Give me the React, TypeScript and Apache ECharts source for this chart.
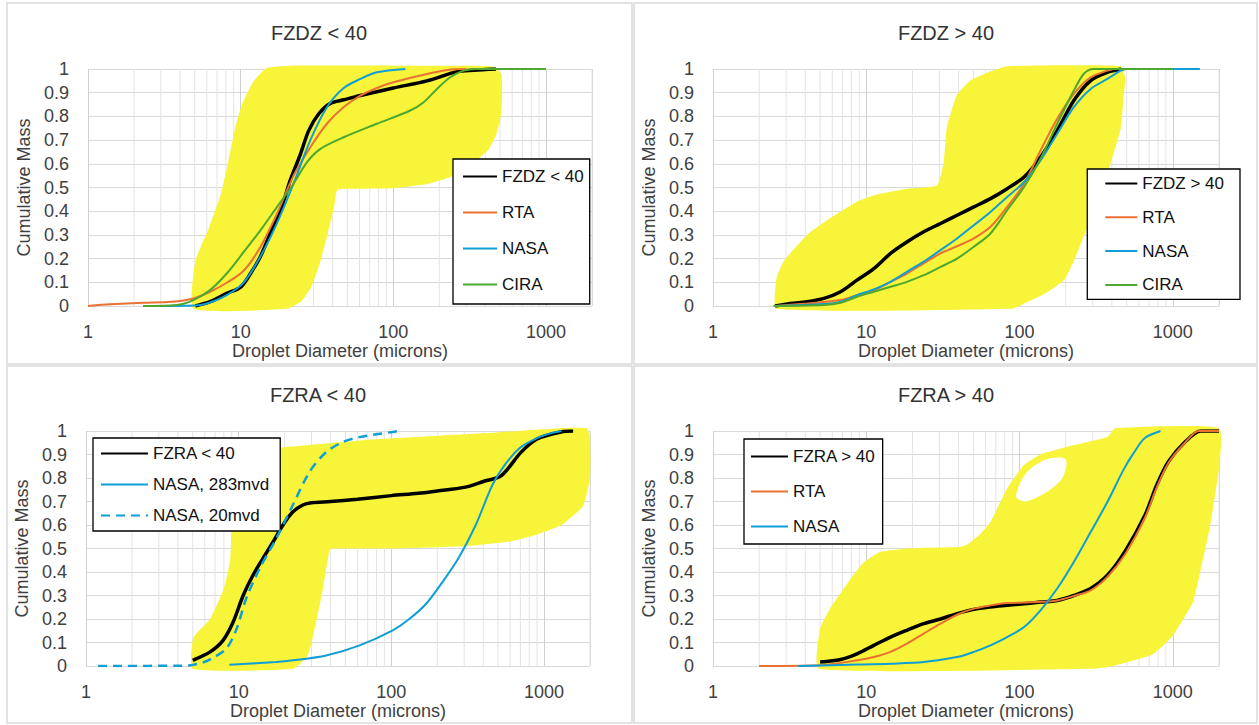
import React, { useEffect, useRef } from "react";
import * as echarts from "echarts";

// ---------- data ----------
const PANEL_TITLES = ["FZDZ < 40", "FZDZ > 40", "FZRA < 40", "FZRA > 40"];
const X_AXIS_NAME = "Droplet Diameter (microns)";
const Y_AXIS_NAME = "Cumulative Mass";
const MINOR_GRID_X = [2, 3, 4, 5, 6, 7, 8, 9, 20, 30, 40, 50, 60, 70, 80, 90, 200, 300, 400, 500, 600, 700, 800, 900, 2000];

// Panel 1: FZDZ < 40
const FZDZ_LT40 = [[5.05, 0], [6.3, 0.018], [8.1, 0.053], [10, 0.08], [11.6, 0.137], [13.5, 0.21], [15.6, 0.306], [18.2, 0.4], [21.1, 0.53], [24.6, 0.64], [27.9, 0.74], [32.4, 0.81], [38.7, 0.855], [47.3, 0.87], [60.8, 0.888], [100, 0.92], [166, 0.95], [261, 0.989], [336, 0.995], [470, 1]];
const RTA_1 = [[1, 0], [1.4, 0.007], [2.3, 0.014], [3.5, 0.018], [4.9, 0.032], [6.3, 0.06], [8.1, 0.098], [10.5, 0.15], [13.5, 0.25], [17.3, 0.39], [22.2, 0.55], [28.6, 0.67], [36.8, 0.77], [47.3, 0.84], [60.8, 0.888], [78, 0.92], [100, 0.944], [166, 0.979], [248, 0.999], [300, 1]];
const NASA_1 = [[2.3, 0], [5.05, 0.002], [6.3, 0.015], [8.1, 0.046], [10.5, 0.1], [13.5, 0.21], [17.3, 0.35], [22.2, 0.516], [28.6, 0.7], [36.8, 0.84], [47.3, 0.92], [60.8, 0.958], [78, 0.986], [120, 1]];
const CIRA_1 = [[2.3, 0], [3.8, 0.004], [4.9, 0.025], [6.3, 0.067], [8.1, 0.137], [10.5, 0.229], [13.5, 0.32], [17.3, 0.418], [22.2, 0.516], [27.2, 0.607], [33.3, 0.663], [47.3, 0.712], [78, 0.769], [129, 0.825], [158, 0.86], [193, 0.916], [236, 0.965], [289, 0.993], [350, 1], [1000, 1]];
const CLOUD_1 = [[4.9, -0.012], [5.05, 0.19], [6.2, 0.33], [7.4, 0.47], [8.3, 0.61], [9.2, 0.75], [10.2, 0.85], [12.2, 0.95], [14.9, 1.005], [22, 1.014], [100, 1.014], [300, 1.014], [450, 1.01], [510, 0.98], [515, 0.9], [505, 0.8], [470, 0.72], [420, 0.66], [330, 0.6], [250, 0.55], [166, 0.515], [100, 0.497], [60, 0.495], [43, 0.49], [41, 0.42], [37, 0.3], [33, 0.18], [29, 0.08], [25, 0.02], [20, -0.012]];

// Panel 2: FZDZ > 40
const FZDZ_GT40 = [[2.54, 0], [3.19, 0.011], [4.1, 0.018], [5.3, 0.032], [6.8, 0.06], [8.7, 0.109], [11.2, 0.158], [14.4, 0.222], [18.4, 0.27], [23.7, 0.313], [30.5, 0.348], [39.1, 0.383], [50.3, 0.418], [64.6, 0.453], [83, 0.495], [107, 0.544], [137, 0.628], [176, 0.74], [226, 0.867], [291, 0.951], [374, 0.986], [435, 0.996], [460, 1]];
const RTA_2 = [[2.54, 0], [4.1, 0.011], [6.8, 0.025], [8.7, 0.046], [11.2, 0.067], [14.4, 0.102], [18.4, 0.137], [23.7, 0.18], [30.5, 0.222], [39.1, 0.252], [50.3, 0.285], [64.6, 0.334], [83, 0.418], [107, 0.516], [137, 0.656], [176, 0.79], [226, 0.895], [291, 0.965], [374, 0.993], [411, 1]];
const NASA_2 = [[2.54, 0], [5.3, 0.008], [6.8, 0.018], [8.7, 0.046], [11.2, 0.07], [14.4, 0.102], [18.4, 0.144], [23.7, 0.187], [30.5, 0.236], [39.1, 0.285], [50.3, 0.341], [64.6, 0.397], [83, 0.46], [107, 0.523], [137, 0.614], [176, 0.727], [226, 0.839], [291, 0.916], [374, 0.958], [457, 0.993], [500, 1], [1500, 1]];
const CIRA_2 = [[2.48, 0], [5.3, 0.004], [6.8, 0.014], [8.7, 0.039], [11.2, 0.06], [14.4, 0.081], [18.4, 0.102], [23.7, 0.13], [30.5, 0.165], [39.1, 0.2], [50.3, 0.25], [64.6, 0.306], [83, 0.404], [107, 0.502], [137, 0.621], [176, 0.769], [226, 0.909], [262, 0.979], [303, 1], [1000, 1]];
const CLOUD_2 = [[2.6, -0.012], [2.6, 0.12], [2.9, 0.19], [4.1, 0.3], [5.8, 0.37], [8.7, 0.44], [11.7, 0.47], [18.4, 0.495], [29, 0.51], [32, 0.61], [33.5, 0.75], [39, 0.89], [47.7, 0.95], [64.6, 0.99], [83, 1.012], [457, 1.012], [490, 0.96], [480, 0.9], [457, 0.75], [396, 0.61], [339, 0.47], [303, 0.4], [276, 0.33], [226, 0.19], [195, 0.11], [144, 0.05], [107, 0.011], [90, -0.012]];

// Panel 3: FZRA < 40
const FZRA_LT40 = [[5, 0.024], [6.5, 0.06], [7.9, 0.109], [9.2, 0.187], [10.7, 0.3], [12.4, 0.386], [14.4, 0.457], [16.8, 0.528], [19.5, 0.6], [22.6, 0.655], [26.3, 0.685], [30, 0.695], [40, 0.7], [60, 0.71], [100, 0.725], [150, 0.735], [200, 0.745], [300, 0.76], [400, 0.785], [525, 0.81], [708, 0.91], [900, 0.966], [1290, 0.996], [1550, 1]];
const NASA_283 = [[8.7, 0.005], [17.6, 0.017], [22.6, 0.024], [37.4, 0.045], [62, 0.088], [102, 0.152], [131, 0.2], [169, 0.265], [216, 0.357], [278, 0.464], [357, 0.6], [459, 0.77], [560, 0.86], [700, 0.93], [900, 0.97], [1100, 0.99], [1300, 1]];
const NASA_20 = [[1.2, 0], [4.7, 0.002], [5.8, 0.015], [6.5, 0.028], [8.3, 0.074], [9.7, 0.159], [11.2, 0.287], [13.7, 0.414], [17.6, 0.542], [22.6, 0.684], [29.1, 0.826], [37.4, 0.91], [48, 0.953], [61.8, 0.974], [102, 0.996], [112, 1]];
const CLOUD_3 = [[5, -0.012], [5.05, 0.12], [6.5, 0.2], [8, 0.33], [8.8, 0.45], [9, 0.6], [9.5, 0.8], [11, 0.9], [14, 0.925], [18.8, 0.93], [63, 0.96], [390, 0.99], [1290, 1.012], [1900, 1.012], [2000, 0.98], [2000, 0.8], [1800, 0.68], [1300, 0.6], [900, 0.56], [600, 0.53], [300, 0.51], [100, 0.5], [41, 0.5], [39.3, 0.49], [35.6, 0.33], [32.2, 0.187], [28.4, 0.045], [22.6, -0.012]];

// Panel 4: FZRA > 40
const FZRA_GT40 = [[5, 0.017], [6.8, 0.028], [8.7, 0.052], [11.2, 0.088], [14.4, 0.123], [18.4, 0.152], [23.7, 0.18], [30.5, 0.2], [39.1, 0.223], [50.3, 0.241], [64.6, 0.251], [83, 0.258], [107, 0.265], [137, 0.272], [176, 0.279], [226, 0.3], [291, 0.33], [374, 0.386], [490, 0.49], [656, 0.64], [785, 0.77], [937, 0.87], [1200, 0.953], [1520, 1], [2000, 1]];
const RTA_4 = [[2, 0], [5, 0.003], [8.7, 0.024], [11.2, 0.038], [14.4, 0.06], [18.4, 0.095], [23.7, 0.138], [30.5, 0.18], [39.1, 0.218], [50.3, 0.244], [64.6, 0.258], [83, 0.268], [107, 0.27], [137, 0.273], [176, 0.279], [226, 0.298], [291, 0.322], [374, 0.379], [490, 0.478], [656, 0.63], [785, 0.76], [937, 0.865], [1200, 0.95], [1480, 1], [2000, 1]];
const NASA_4 = [[3.6, 0], [8.7, 0.006], [14.4, 0.01], [23.7, 0.017], [39.1, 0.038], [50.3, 0.06], [64.6, 0.088], [83, 0.123], [107, 0.166], [137, 0.237], [176, 0.33], [226, 0.443], [291, 0.57], [374, 0.698], [481, 0.84], [560, 0.91], [656, 0.97], [830, 1]];
const CLOUD_4 = [[4.9, -0.012], [5, 0.16], [5.8, 0.244], [7.9, 0.37], [9.6, 0.44], [12.3, 0.485], [18.4, 0.5], [40, 0.506], [45, 0.515], [55, 0.56], [64.6, 0.613], [83, 0.755], [107, 0.855], [137, 0.9], [226, 0.94], [374, 0.975], [420, 1.012], [2000, 1.012], [2000, 0.84], [1730, 0.58], [1520, 0.41], [1350, 0.27], [1000, 0.13], [740, 0.05], [405, 0], [300, -0.012]];
const HOLE_4 = [[95, 0.72], [110, 0.82], [150, 0.88], [200, 0.88], [190, 0.8], [150, 0.74], [110, 0.7]];

// ---------- styles ----------
const FONT = "Liberation Sans, Arial, sans-serif";
const BLACK = "#000000";
const ORANGE = "#E97132";
const BLUE = "#0F9ED5";
const GREEN = "#4EA72E";
const YELLOW = "#F7F43A";

const GRIDS = [
  { left: 88, top: 69, width: 504, height: 237 },
  { left: 713, top: 69, width: 506, height: 237 },
  { left: 86, top: 431, width: 504, height: 235 },
  { left: 713, top: 431, width: 506, height: 235 },
];
const TITLE_POS = [[319, 23], [946, 23], [318, 385], [946, 385]];

type LineDef = { name: string; data: number[][]; color: string; width: number; dashed?: boolean };
const PANEL_LINES: LineDef[][] = [
  [
    { name: "FZDZ < 40", data: FZDZ_LT40, color: BLACK, width: 3.5 },
    { name: "RTA", data: RTA_1, color: ORANGE, width: 2 },
    { name: "NASA", data: NASA_1, color: BLUE, width: 2 },
    { name: "CIRA", data: CIRA_1, color: GREEN, width: 2 },
  ],
  [
    { name: "FZDZ > 40", data: FZDZ_GT40, color: BLACK, width: 3.5 },
    { name: "RTA", data: RTA_2, color: ORANGE, width: 2 },
    { name: "NASA", data: NASA_2, color: BLUE, width: 2 },
    { name: "CIRA", data: CIRA_2, color: GREEN, width: 2 },
  ],
  [
    { name: "FZRA < 40", data: FZRA_LT40, color: BLACK, width: 3.5 },
    { name: "NASA, 283mvd", data: NASA_283, color: BLUE, width: 2 },
    { name: "NASA, 20mvd", data: NASA_20, color: BLUE, width: 2.5, dashed: true },
  ],
  [
    { name: "FZRA > 40", data: FZRA_GT40, color: BLACK, width: 3.5 },
    { name: "RTA", data: RTA_4, color: ORANGE, width: 2 },
    { name: "NASA", data: NASA_4, color: BLUE, width: 2 },
  ],
];
const CLOUDS = [CLOUD_1, CLOUD_2, CLOUD_3, CLOUD_4];
const HOLES: number[][][] = [[], [], [], HOLE_4];

const LEGENDS: any[] = [
  { pos: { left: 453, top: 159 }, itemWidth: 34, itemGap: 19, padding: [9, 6, 11, 9] },
  { pos: { right: 19, top: 169 }, itemWidth: 32, itemGap: 16.8, padding: [6, 16, 6, 17] },
  { pos: { left: 93, top: 438 }, itemWidth: 47, itemGap: 14, padding: [7, 11, 7, 7] },
  { pos: { left: 744, top: 439 }, itemWidth: 37, itemGap: 18, padding: [9, 7, 9, 6] },
];

function buildOption() {
  const series: any[] = [];
  const xAxis: any[] = [];
  const yAxis: any[] = [];
  for (let i = 0; i < 4; i++) {
    xAxis.push({
      gridIndex: i,
      type: "log",
      logBase: 10,
      min: 1,
      max: 2000,
      name: X_AXIS_NAME,
      nameLocation: "middle",
      nameGap: 34,
      nameTextStyle: { fontSize: 18, color: "#404040", fontFamily: FONT },
      axisLine: { show: false },
      axisTick: { show: false },
      axisLabel: {
        fontSize: 18,
        color: "#404040",
        fontFamily: FONT,
        margin: 17,
        formatter: (v: number) => {
          const l = Math.log10(v);
          return Math.abs(l - Math.round(l)) < 1e-6 ? String(Math.round(v)) : "";
        },
      },
      splitLine: { show: true, lineStyle: { color: "#d0d0d0", width: 1 } },
    });
    yAxis.push({
      gridIndex: i,
      type: "value",
      min: 0,
      max: 1,
      interval: 0.1,
      name: Y_AXIS_NAME,
      nameLocation: "middle",
      nameGap: 55,
      nameTextStyle: { fontSize: 18, color: "#404040", fontFamily: FONT },
      axisLine: { show: false },
      axisTick: { show: false },
      axisLabel: { fontSize: 18, color: "#404040", fontFamily: FONT, margin: 19 },
      splitLine: { show: true, lineStyle: { color: "#d9d9d9", width: 1 } },
    });
    // minor vertical gridlines (log axis 2..9 of each decade)
    series.push({
      type: "custom",
      xAxisIndex: i,
      yAxisIndex: i,
      silent: true,
      z: 1,
      data: MINOR_GRID_X.map((v) => [v, 0]),
      renderItem: (_p: any, api: any) => {
        const x = api.value(0);
        const a = api.coord([x, 0]);
        const b = api.coord([x, 1]);
        return { type: "line", shape: { x1: a[0], y1: a[1], x2: b[0], y2: b[1] }, style: { stroke: "#e4e4e4", lineWidth: 1 } };
      },
    });
    // yellow data cloud
    const cloud = CLOUDS[i];
    const hole = HOLES[i];
    series.push({
      type: "custom",
      xAxisIndex: i,
      yAxisIndex: i,
      silent: true,
      z: 2,
      clip: false,
      data: [[1, 0]],
      renderItem: (_p: any, api: any) => {
        const children: any[] = [
          { type: "polygon", shape: { points: cloud.map((p) => api.coord(p)), smooth: 0.15 }, style: { fill: YELLOW } },
        ];
        if (hole.length) {
          children.push({ type: "polygon", shape: { points: hole.map((p) => api.coord(p)), smooth: 0.3 }, style: { fill: "#ffffff" } });
        }
        return { type: "group", children };
      },
    });
    PANEL_LINES[i].forEach((ln, k) => {
      series.push({
        type: "line",
        name: ln.name,
        xAxisIndex: i,
        yAxisIndex: i,
        data: ln.data,
        symbol: "none",
        showSymbol: false,
        smooth: 0.3,
        z: 3 + k,
        color: ln.color,
        lineStyle: { color: ln.color, width: ln.width, type: ln.dashed ? [9, 6] : "solid" },
      });
    });
  }

  const legend = LEGENDS.map((lg, i) => ({
    show: true,
    orient: "vertical",
    ...lg.pos,
    padding: lg.padding,
    itemWidth: lg.itemWidth,
    itemHeight: 14,
    itemGap: lg.itemGap,
    borderColor: "#000",
    borderWidth: 1.3,
    backgroundColor: "#fff",
    selectedMode: false,
    itemStyle: { opacity: 0 },
    textStyle: { fontSize: 17, color: "#111", fontFamily: FONT },
    data: PANEL_LINES[i].map((l) => l.name),
  }));

  const title = PANEL_TITLES.map((t, i) => ({
    text: t,
    left: TITLE_POS[i][0],
    top: TITLE_POS[i][1],
    textAlign: "center",
    padding: 0,
    textStyle: { fontSize: 20, fontWeight: "normal", color: "#333", fontFamily: FONT },
  }));

  const frame = { fill: "none", stroke: "#dadada", lineWidth: 1.5 };
  const graphic = [
    { type: "rect", shape: { x: 7, y: 3, width: 625, height: 361 }, style: frame, silent: true },
    { type: "rect", shape: { x: 634, y: 3, width: 623, height: 361 }, style: frame, silent: true },
    { type: "rect", shape: { x: 7, y: 366, width: 625, height: 357 }, style: frame, silent: true },
    { type: "rect", shape: { x: 634, y: 366, width: 623, height: 357 }, style: frame, silent: true },
  ];

  return {
    animation: false,
    backgroundColor: "#ffffff",
    textStyle: { fontFamily: FONT },
    title,
    legend,
    grid: GRIDS.map((g) => ({ ...g, containLabel: false })),
    xAxis,
    yAxis,
    series,
    graphic,
  };
}

export default function App() {
  const ref = useRef<HTMLDivElement>(null);
  useEffect(() => {
    if (!ref.current) return;
    const chart = echarts.init(ref.current, undefined, { renderer: "svg" });
    chart.setOption(buildOption() as any);
    return () => chart.dispose();
  }, []);
  return <div ref={ref} style={{ position: "fixed", left: 0, top: 0, width: 1259, height: 725 }} />;
}
